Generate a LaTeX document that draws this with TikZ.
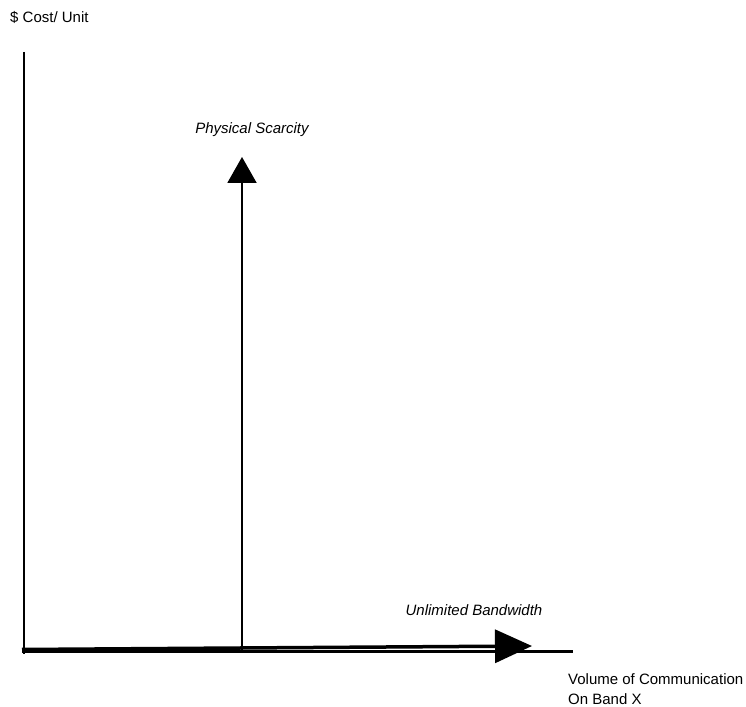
\documentclass[tikz,border=0pt]{standalone}
\usepackage{fontspec}
\setmainfont{Liberation Sans}
\usetikzlibrary{arrows.meta}
\begin{document}
\begin{tikzpicture}[x=1pt, y=1pt, font=\fontsize{15}{20}\selectfont,
  axis line/.style={draw=black, line width=3pt},
  text node/.style={inner sep=0pt}]
\useasboundingbox (0,0) rectangle (746,706);
\begin{scope}[every node/.style={text node}]
\node[anchor=west] (cost) at (10,689) {\$ Cost/ Unit};%y label
\node (scarce) at (252,576) {\itshape Physical Scarcity};
\node (unlim) at (474,96) {\itshape Unlimited Bandwidth};
\node[anchor=north west, align=left] (vol) at (568,33) {Volume of Communication\\On Band X};%x label
\end{scope}
\coordinate (ytop) at (24,654);
\coordinate (orig) at (24,52);
\coordinate (xorig) at (22,54);
\coordinate (xend) at (573,54);
\coordinate (bwstart) at (22,56.5);
\coordinate (bwtip) at (532,60);
\coordinate (scfoot) at (242,55);
\coordinate (sctip) at (242,549);
%\coordinate () at (,);
\begin{scope}
\draw[axis line, line width=2.5pt] (ytop) -- (orig);
\draw[axis line] (xorig) -- (xend);
\draw[axis line, line width=3.5pt, -{Triangle[length=37pt,width=33pt]}] (bwstart) -- (bwtip);
\draw[axis line, line width=2pt, -{Triangle[length=26pt,width=29pt]}] (scfoot) -- (sctip);
\end{scope}
\end{tikzpicture}
\end{document}
